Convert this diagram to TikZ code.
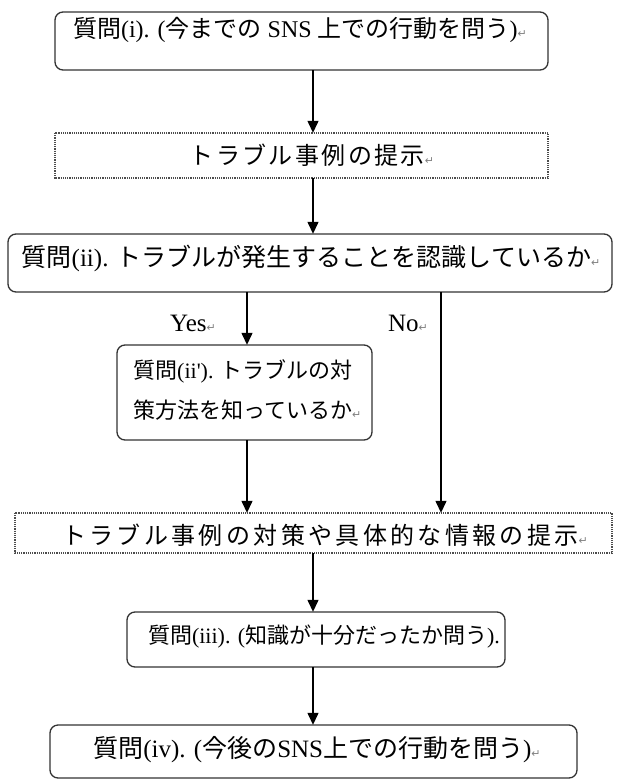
\documentclass[tikz,border=0pt]{standalone}
\usepackage{fontspec}
\setmainfont{Liberation Serif}
\newfontfamily\jp{Noto Sans CJK JP}
\newfontfamily\jpsp[LetterSpace=10]{Noto Sans CJK JP}
\newfontfamily\jpwide[LetterSpace=14]{Noto Sans CJK JP}
\newfontfamily\djv{DejaVu Sans}
\usetikzlibrary{arrows.meta}
\newcommand{\retmark}{{\djv\fontsize{11}{12}\selectfont\textcolor{gray}{↵}}}
\newcommand{\fs}[1]{\fontsize{#1}{#1}\selectfont}
\tikzset{
  rbox/.style={draw=black!80, line width=1.3pt, rounded corners=8pt, fill=white},
  dbox/.style={draw=black!70, line width=1.2pt, densely dotted, fill=white},
  txt/.style={inner sep=0pt},
  lbl/.style={inner sep=0pt, font=\fs{25}},
  arr/.style={line width=1.3pt, -{Triangle[length=12pt,width=11pt]}},
  ln/.style={line width=1.3pt}
}
\begin{document}
\begin{tikzpicture}[x=1pt,y=-1pt]
\useasboundingbox (0,0) rectangle (622,780);
% boxes
\draw[rbox] (55,12) rectangle (548,70);
\node (b1) at (301.5,41) [minimum width=493pt, minimum height=58pt, inner sep=0pt] {};
\draw[dbox] (55,133) rectangle (548,178);
\node (b2) at (301.5,155.5) [minimum width=493pt, minimum height=45pt, inner sep=0pt] {};
\draw[rbox] (8,234) rectangle (612,292);
\node (b3) at (310,263) [minimum width=604pt, minimum height=58pt, inner sep=0pt] {};
\draw[rbox] (117,345) rectangle (372,440);
\node (b4) at (244.5,392.5) [minimum width=255pt, minimum height=95pt, inner sep=0pt] {};
\draw[dbox] (15,513) rectangle (612,553);
\node (b5) at (313.5,533) [minimum width=597pt, minimum height=40pt, inner sep=0pt] {};
\draw[rbox] (127,612) rectangle (505,667);
\node (b6) at (316,639.5) [minimum width=378pt, minimum height=55pt, inner sep=0pt] {};
\draw[rbox] (50,725) rectangle (577,778);
\node (b7) at (313.5,751.5) [minimum width=527pt, minimum height=53pt, inner sep=0pt] {};
% texts
\node[txt, font=\fs{24}] (t1) at (300,30) {{\jp 質問}(i). ({\jp 今までの} SNS {\jp 上での行動を問う})\retmark};
\node[txt, font=\fs{24}] (t2) at (312,155) {{\jpsp トラブル事例の提示}\retmark};
\node[txt, font=\fs{25}] (t3) at (311,258) {{\jp 質問}(ii). {\jp トラブルが発生することを認識しているか}\retmark};
\node[txt, font=\fs{22}, anchor=west, align=left] (t4) at (133,390) {{\jp 質問}(ii\textquotesingle). {\jp トラブルの対}\\[16pt]{\jp 策方法を知っているか}\retmark};
\node[txt, font=\fs{24}] (t5) at (325,535) {{\jpwide トラブル事例の対策や具体的な情報の提示}\retmark};
\node[txt, font=\fs{22}] (t6) at (324,637) {{\jp 質問}(iii). ({\jp 知識が十分だったか問う}).};
\node[txt, font=\fs{25}] (t7) at (317,750) {{\jp 質問}(iv). ({\jp 今後の}SNS{\jp 上での行動を問う})\retmark};
\node[lbl] (yes) at (193,323) {Yes\retmark};
\node[lbl] (no) at (408,323) {No\retmark};
% connectors
\draw[arr] (b1.south -| 313,0) -- (b2.north -| 313,0);
\draw[arr] (b2.south -| 313,0) -- (b3.north -| 313,0);
\draw[arr] (b3.south -| 247,0) -- (b4.north -| 247,0);
\draw[arr] (b3.south -| 441,0) -- (b5.north -| 441,0);
\draw[arr] (b4.south -| 247,0) -- (b5.north -| 247,0);
\draw[arr] (b5.south -| 313,0) -- (b6.north -| 313,0);
\draw[arr] (b6.south -| 313,0) -- (b7.north -| 313,0);
\end{tikzpicture}
\end{document}
